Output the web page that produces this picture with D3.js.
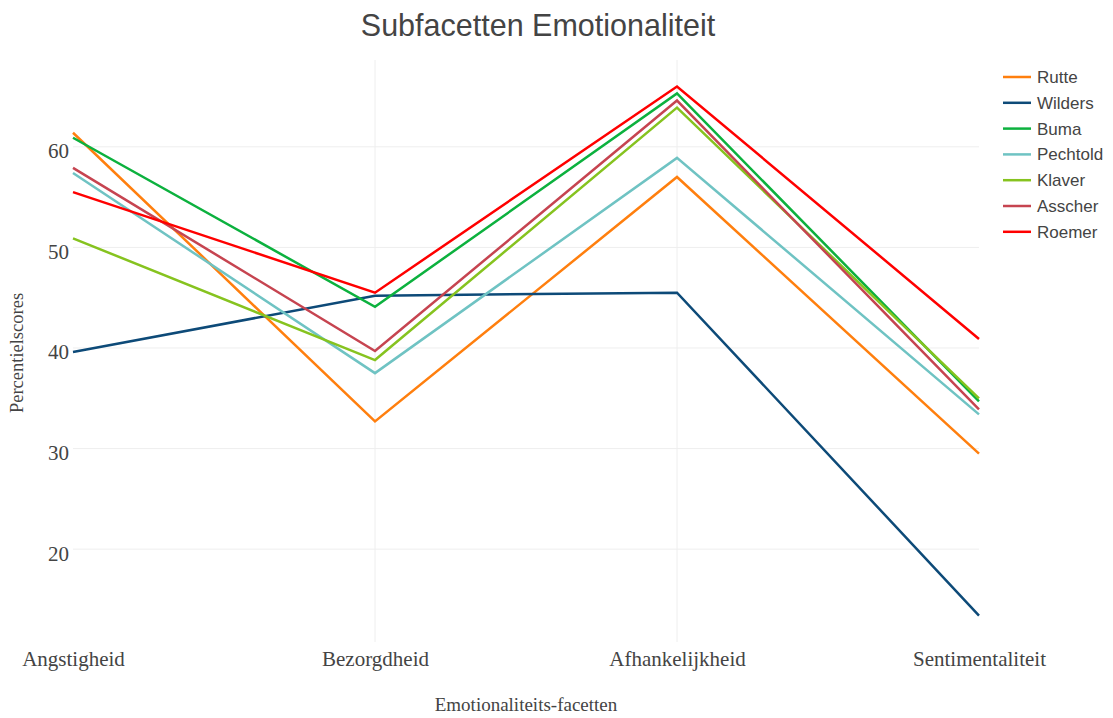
<!DOCTYPE html>
<html>
<head>
<meta charset="utf-8">
<script src="https://cdn.jsdelivr.net/npm/d3@7"></script>
<style>
  body { margin: 0; background: #fff; }
  svg { display: block; }
</style>
</head>
<body>
<svg id="chart" width="1113" height="718"></svg>
<script>
// facetten en scores per kandidaat
const facets = ["Angstigheid", "Bezorgdheid", "Afhankelijkheid", "Sentimentaliteit"];
const names = ["Rutte", "Wilders", "Buma", "Pechtold", "Klaver", "Asscher", "Roemer"];
const rutte = [61.4, 32.7, 57.0, 29.5];
const wilders = [39.6, 45.2, 45.5, 13.4];
const buma = [60.9, 44.1, 65.3, 34.7];
const pechtold = [57.4, 37.5, 58.9, 33.4];
const klaver = [50.9, 38.8, 63.9, 35.0];
const asscher = [57.9, 39.7, 64.6, 33.9];
const roemer = [55.5, 45.5, 66.0, 40.9];
const yTicks = [20, 30, 40, 50, 60];
const colors = ["#ff7f0e", "#0d4a78", "#0cb13e", "#6fc3c3", "#86c31f", "#c64450", "#ff0000"];

const series = [rutte, wilders, buma, pechtold, klaver, asscher, roemer];

const svg = d3.select("#chart");
const mLeft = 73, mRight = 979, mTop = 60, mBottom = 642;
const serif = "'Liberation Serif', 'Times New Roman', serif";
const sans = "'Liberation Sans', Arial, sans-serif";

const x = d3.scalePoint().domain(facets).range([mLeft, mRight]);
const allVals = series.flat();
const lo = d3.min(allVals), hi = d3.max(allVals);
const pad = (hi - lo) * 0.05;
const y = d3.scaleLinear().domain([lo - pad, hi + pad]).range([mBottom, mTop]);

// grid
const grid = svg.append("g");
grid.selectAll(".hg").data(yTicks).enter().append("line")
  .attr("x1", mLeft).attr("x2", mRight)
  .attr("y1", d => y(d)).attr("y2", d => y(d))
  .attr("stroke", "#eeeeee").attr("stroke-width", 1);
grid.selectAll(".vg").data(facets.slice(1, 3)).enter().append("line")
  .attr("x1", d => x(d)).attr("x2", d => x(d))
  .attr("y1", mTop).attr("y2", mBottom)
  .attr("stroke", "#eeeeee").attr("stroke-width", 1);

// y-as
const yAxis = svg.append("g")
  .attr("transform", `translate(${mLeft},0)`)
  .call(d3.axisLeft(y).tickValues(yTicks).tickSize(0).tickPadding(4));
yAxis.select(".domain").remove();
yAxis.selectAll("text")
  .attr("font-family", serif)
  .attr("font-size", 21).attr("fill", "#444")
  .attr("dy", "0.52em");

// x-as
const xAxis = svg.append("g")
  .attr("transform", `translate(0,${mBottom})`)
  .call(d3.axisBottom(x).tickSize(0).tickPadding(9));
xAxis.select(".domain").remove();
xAxis.selectAll("text")
  .attr("font-family", serif)
  .attr("font-size", 21).attr("fill", "#444");

// lijnen
const line = d3.line().x((d, i) => x(facets[i])).y(d => y(d));
svg.append("g").selectAll("path").data(series).enter().append("path")
  .attr("d", line)
  .attr("fill", "none")
  .attr("stroke", (d, i) => colors[i])
  .attr("stroke-width", 2.5)
  .attr("stroke-linejoin", "miter");

// titels
svg.append("text")
  .attr("x", 538).attr("y", 36)
  .attr("text-anchor", "middle")
  .attr("font-family", sans)
  .attr("font-size", 30.5).attr("fill", "#444")
  .text("Subfacetten Emotionaliteit");

svg.append("text")
  .attr("x", 526).attr("y", 711)
  .attr("text-anchor", "middle")
  .attr("font-family", serif)
  .attr("font-size", 19).attr("fill", "#444")
  .text("Emotionaliteits-facetten");

svg.append("text")
  .attr("transform", "translate(23,353) rotate(-90)")
  .attr("text-anchor", "middle")
  .attr("font-family", serif)
  .attr("font-size", 18.5).attr("fill", "#444")
  .text("Percentielscores");

// legenda
const legend = svg.append("g").attr("transform", "translate(1003,77)");
const item = legend.selectAll("g").data(names).enter().append("g")
  .attr("transform", (d, i) => `translate(0,${i * 25.8})`);
item.append("line")
  .attr("x1", 0).attr("x2", 28).attr("y1", 0).attr("y2", 0)
  .attr("stroke", (d, i) => colors[i]).attr("stroke-width", 2.5);
item.append("text")
  .attr("x", 34).attr("y", 6)
  .attr("font-family", sans)
  .attr("font-size", 17).attr("fill", "#444")
  .text(d => d);
</script>
</body>
</html>
